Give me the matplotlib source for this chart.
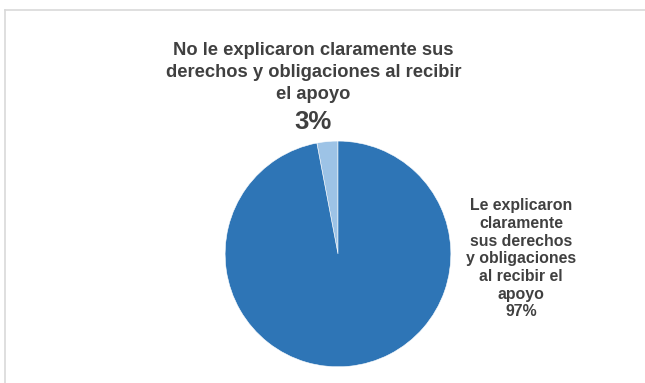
import matplotlib.pyplot as plt
from matplotlib.lines import Line2D

# data
labels = ["No le explicaron claramente sus\nderechos y obligaciones al recibir\nel apoyo",
          "Le explicaron\nclaramente\nsus derechos\ny obligaciones\nal recibir el\napoyo"]
values = [3, 97]
colors = ["#9dc3e6", "#2e75b6"]

plt.rcParams["font.family"] = ["Liberation Sans", "DejaVu Sans"]
text_color = "#404040"

fig = plt.figure(figsize=(6.45, 3.83), dpi=100)

# chart border (only top/left visible in the crop)
fig.add_artist(Line2D([0.008, 0.008], [0, 0.974], color="#d9d9d9", lw=1.2, transform=fig.transFigure))
fig.add_artist(Line2D([0.008, 1.0], [0.974, 0.974], color="#d9d9d9", lw=1.2, transform=fig.transFigure))

ax = fig.add_axes([0.349, 0.042, 0.350, 0.590])
ax.pie(values, colors=colors, startangle=90, counterclock=True,
       wedgeprops=dict(edgecolor="white", linewidth=0.4))
ax.set_xlim(-1, 1)
ax.set_ylim(-1, 1)
ax.set_aspect("equal")
ax.axis("off")

# labels
fig.text(0.486, 0.890, labels[0], ha="center", va="top", fontsize=13.2,
         fontweight="bold", color=text_color, linespacing=1.38)
fig.text(0.486, 0.712, f"{values[0]}%", ha="center", va="top", fontsize=18.5,
         fontweight="bold", color=text_color)
fig.text(0.808, 0.324, labels[1] + f"\n{values[1]}%", ha="center", va="center", fontsize=11.4,
         fontweight="bold", color=text_color, linespacing=1.22)

fig.savefig("out.png", dpi=100)
